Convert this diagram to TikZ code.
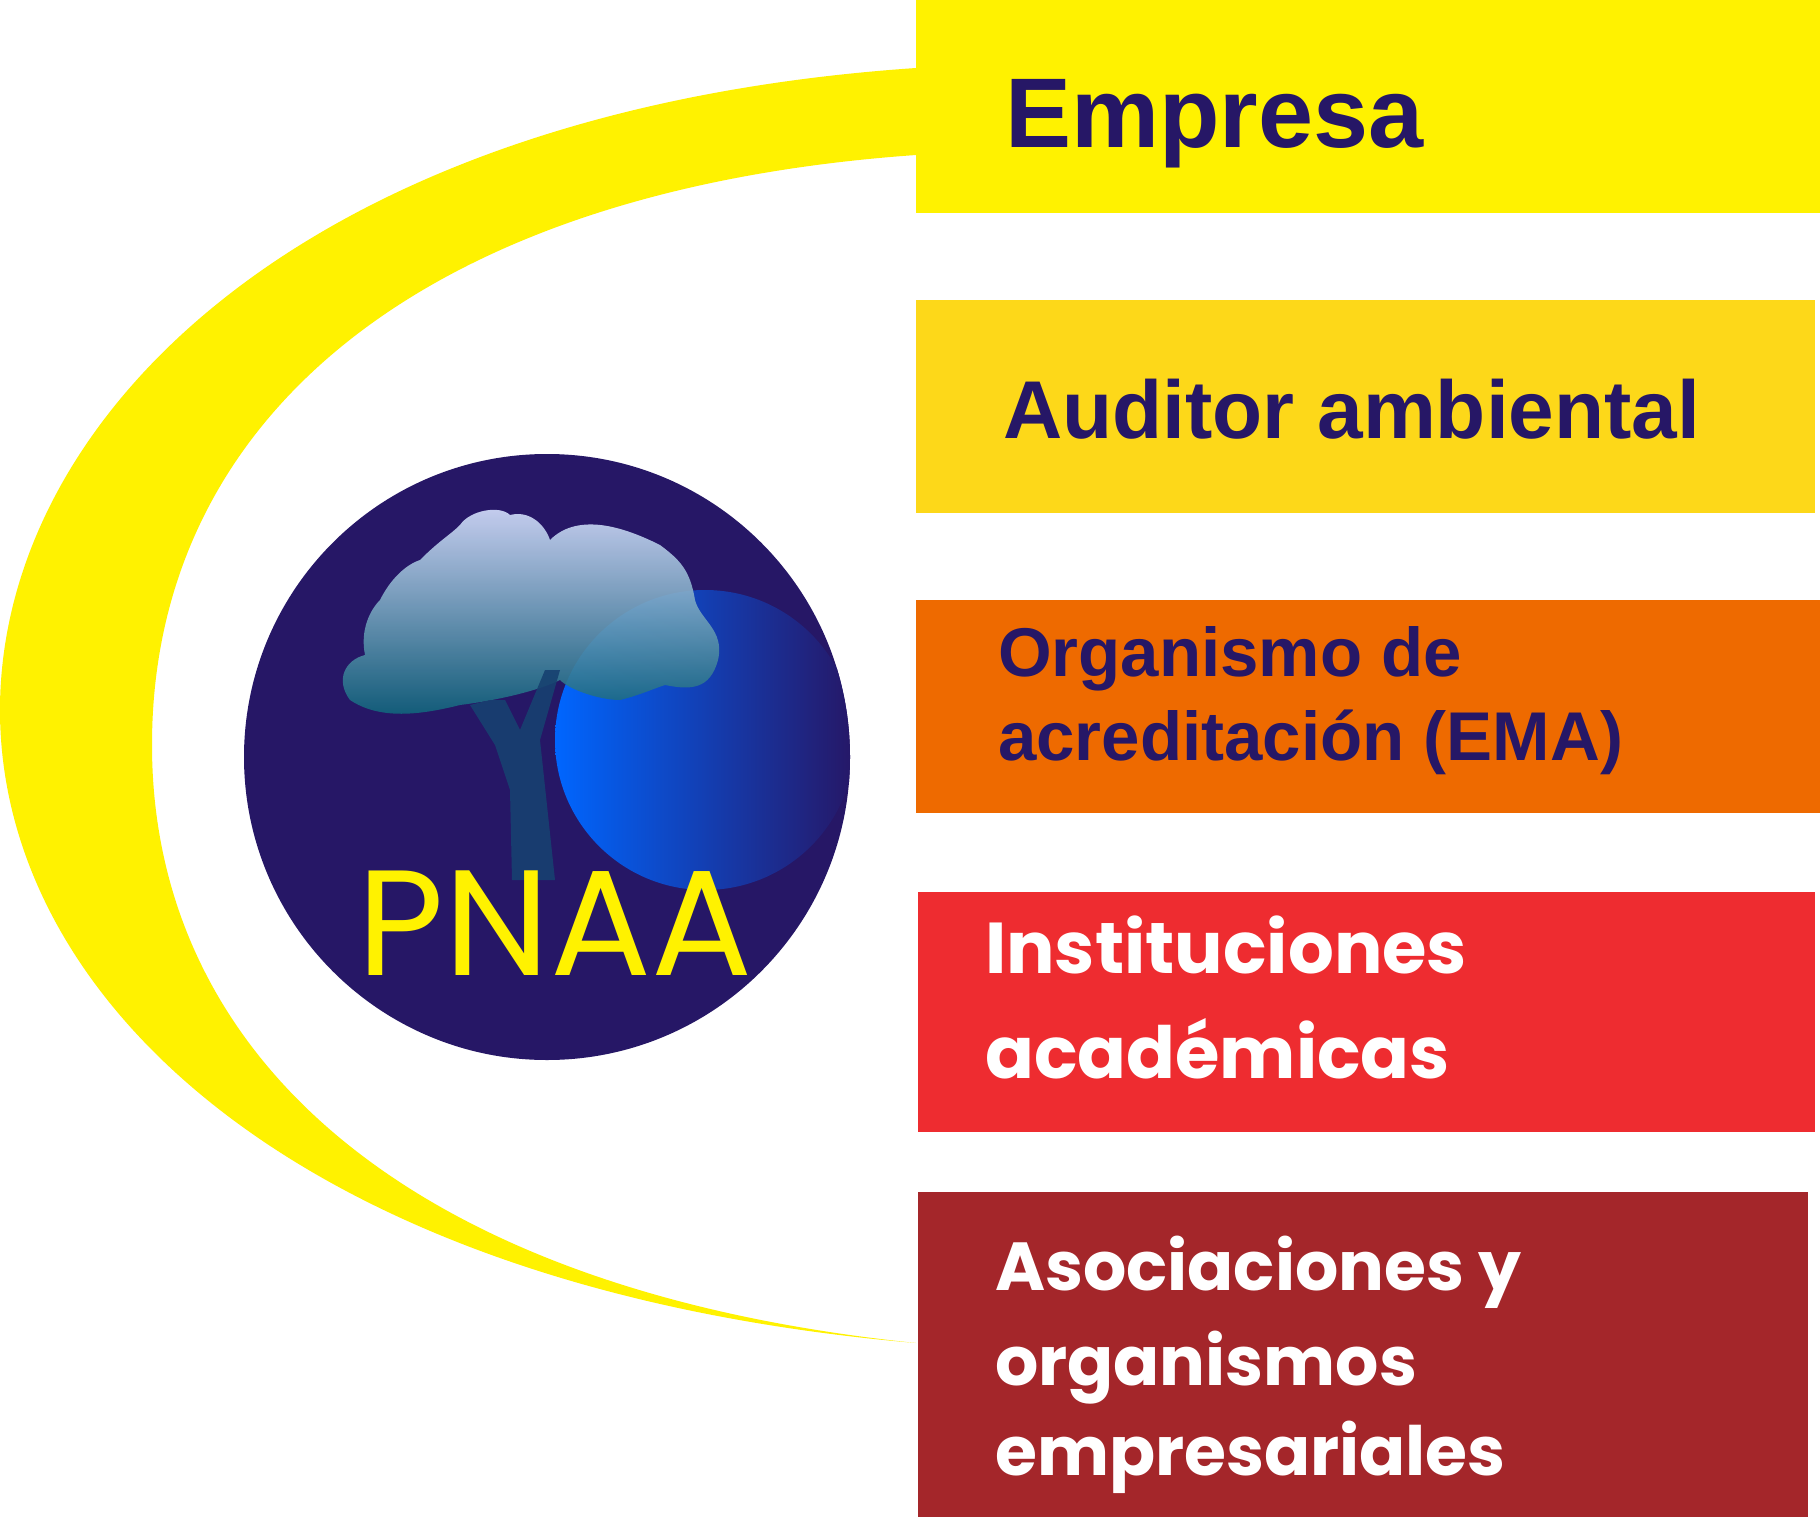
\documentclass[tikz,border=0pt]{standalone}
\usepackage{fontspec}
\setmainfont{Liberation Sans}
\newfontfamily\pop{Poppins}
\usetikzlibrary{shadings}
\definecolor{navy}{HTML}{261766}
\definecolor{ylw}{HTML}{FFF200}
\definecolor{gld}{HTML}{FDD819}
\definecolor{org}{HTML}{EE6A00}
\definecolor{rd}{HTML}{EE2C30}
\definecolor{drd}{HTML}{A4262A}
\tikzset{lbl/.style={anchor=base west,inner sep=0pt,text=navy}}
\begin{document}
\begin{tikzpicture}[x=1pt,y=-1pt]
\useasboundingbox (0,0) rectangle (1820,1517);
\fill[white] (0,0) rectangle (1820,1517);
% crescent
\fill[ylw] (916,68) .. controls (300,110) and (0,420) .. (0,710)
  .. controls (0,1000) and (300,1290) .. (916,1343)
  .. controls (400,1290) and (152,1050) .. (152,745)
  .. controls (152,420) and (420,190) .. (916,155) -- cycle;
% bands
\fill[ylw] (916,0) rectangle (1820,213);
\fill[gld] (916,300) rectangle (1815,513);
\fill[org] (916,600) rectangle (1820,813);
\fill[rd] (918,892) rectangle (1815,1132);
\fill[drd] (918,1192) rectangle (1808,1517);
% circle
\node[circle,fill=navy,minimum size=606pt,inner sep=0pt] (logo) at (547,757) {};
\begin{scope}
\clip (547,757) circle (303);
\shade[left color=blue!60!cyan,right color=navy] (705,740) circle (150);
\end{scope}
% tree canopy
\shade[top color=cyan!25!blue!15!white,bottom color=teal!70!navy,opacity=0.9]
 (350,700) .. controls (335,680) and (345,660) .. (365,655)
 .. controls (360,630) and (370,610) .. (380,600)
 .. controls (390,580) and (405,565) .. (420,560)
 .. controls (440,540) and (450,535) .. (460,525)
 .. controls (470,510) and (500,505) .. (510,515)
 .. controls (530,510) and (545,525) .. (550,540)
 .. controls (580,510) and (630,530) .. (660,545)
 .. controls (680,560) and (690,570) .. (695,600)
 .. controls (700,620) and (725,630) .. (718,660)
 .. controls (710,690) and (690,690) .. (665,685)
 .. controls (650,690) and (640,695) .. (620,700)
 .. controls (600,700) and (570,690) .. (560,680)
 .. controls (540,690) and (500,700) .. (460,705)
 .. controls (420,715) and (380,720) .. (350,700) -- cycle;
% trunk
\fill[teal!40!navy,opacity=0.9] (490,700) -- (505,700) -- (520,730) -- (545,670) -- (560,670) -- (540,740)
 -- (555,880) -- (512,880) -- (510,790) -- (495,745) -- (470,705) -- cycle;
\node[font=\pop\fontsize{150}{150}\selectfont,text=ylw,inner sep=0pt,anchor=base] (pnaa) at (555,975) {PNAA};
% labels
\node[lbl,font=\bfseries\fontsize{99}{99}\selectfont] (e) at (1005,148) {Empresa};
\node[lbl,font=\bfseries\fontsize{82}{82}\selectfont] (a) at (1003,438) {Auditor ambiental};
\node[lbl,font=\bfseries\fontsize{69}{69}\selectfont] (o1) at (998,676) {Organismo de};
\node[lbl,font=\bfseries\fontsize{69}{69}\selectfont] (o2) at (998,760) {acreditación (EMA)};
\node[lbl,text=white,font=\pop\bfseries\fontsize{72}{72}\selectfont] (i1) at (985,973) {Instituciones};
\node[lbl,text=white,font=\pop\bfseries\fontsize{72}{72}\selectfont] (i2) at (985,1078) {académicas};
\node[lbl,text=white,font=\pop\bfseries\fontsize{68}{68}\selectfont] (s1) at (995,1290) {Asociaciones y};
\node[lbl,text=white,font=\pop\bfseries\fontsize{68}{68}\selectfont] (s2) at (995,1385) {organismos};
\node[lbl,text=white,font=\pop\bfseries\fontsize{68}{68}\selectfont] (s3) at (995,1475) {empresariales};
\end{tikzpicture}
\end{document}
